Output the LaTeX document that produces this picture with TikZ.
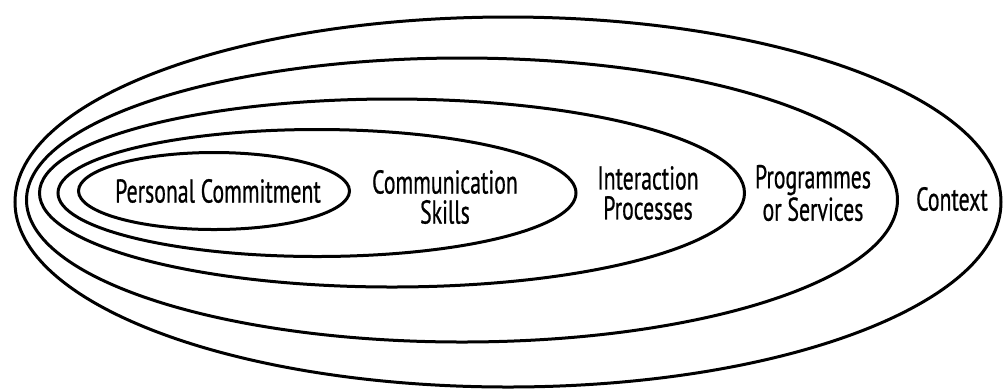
\documentclass[tikz,border=0pt]{standalone}
\usepackage{fontspec}
\setmainfont{PT Sans}[FakeStretch=0.66,FakeBold=0.6]
\usetikzlibrary{shapes.geometric}
\tikzset{
  ring/.style={draw=black, line width=1.5pt, ellipse, inner sep=0pt},
  lbl/.style={align=center, inner sep=0pt, font=\fontsize{16.5}{15}\selectfont}
}
\begin{document}
\begin{tikzpicture}[x=0.5pt,y=-0.5pt]
\useasboundingbox (0,0) rectangle (1003,388);
\node[ring, minimum width=493pt, minimum height=185pt] (context) at (508,202) {};
\node[ring, minimum width=435.5pt, minimum height=142pt] (progs) at (462,200) {};
\node[ring, minimum width=352.5pt, minimum height=94pt] (inter) at (392,193) {};
\node[ring, minimum width=259pt, minimum height=63.5pt] (comm) at (317,193) {};
\node[ring, minimum width=135.5pt, minimum height=38.5pt] (pers) at (214,191) {};
\node[lbl] (tpers) at (218,191) {Personal Commitment};
\node[lbl] (tcomm) at (445,197) {Communication\\Skills};
\node[lbl] (tinter) at (648,193) {Interaction\\Processes};
\node[lbl] (tprogs) at (813,193) {Programmes\\or Services};
\node[lbl] (tcontext) at (952,199) {Context};
\end{tikzpicture}
\end{document}
